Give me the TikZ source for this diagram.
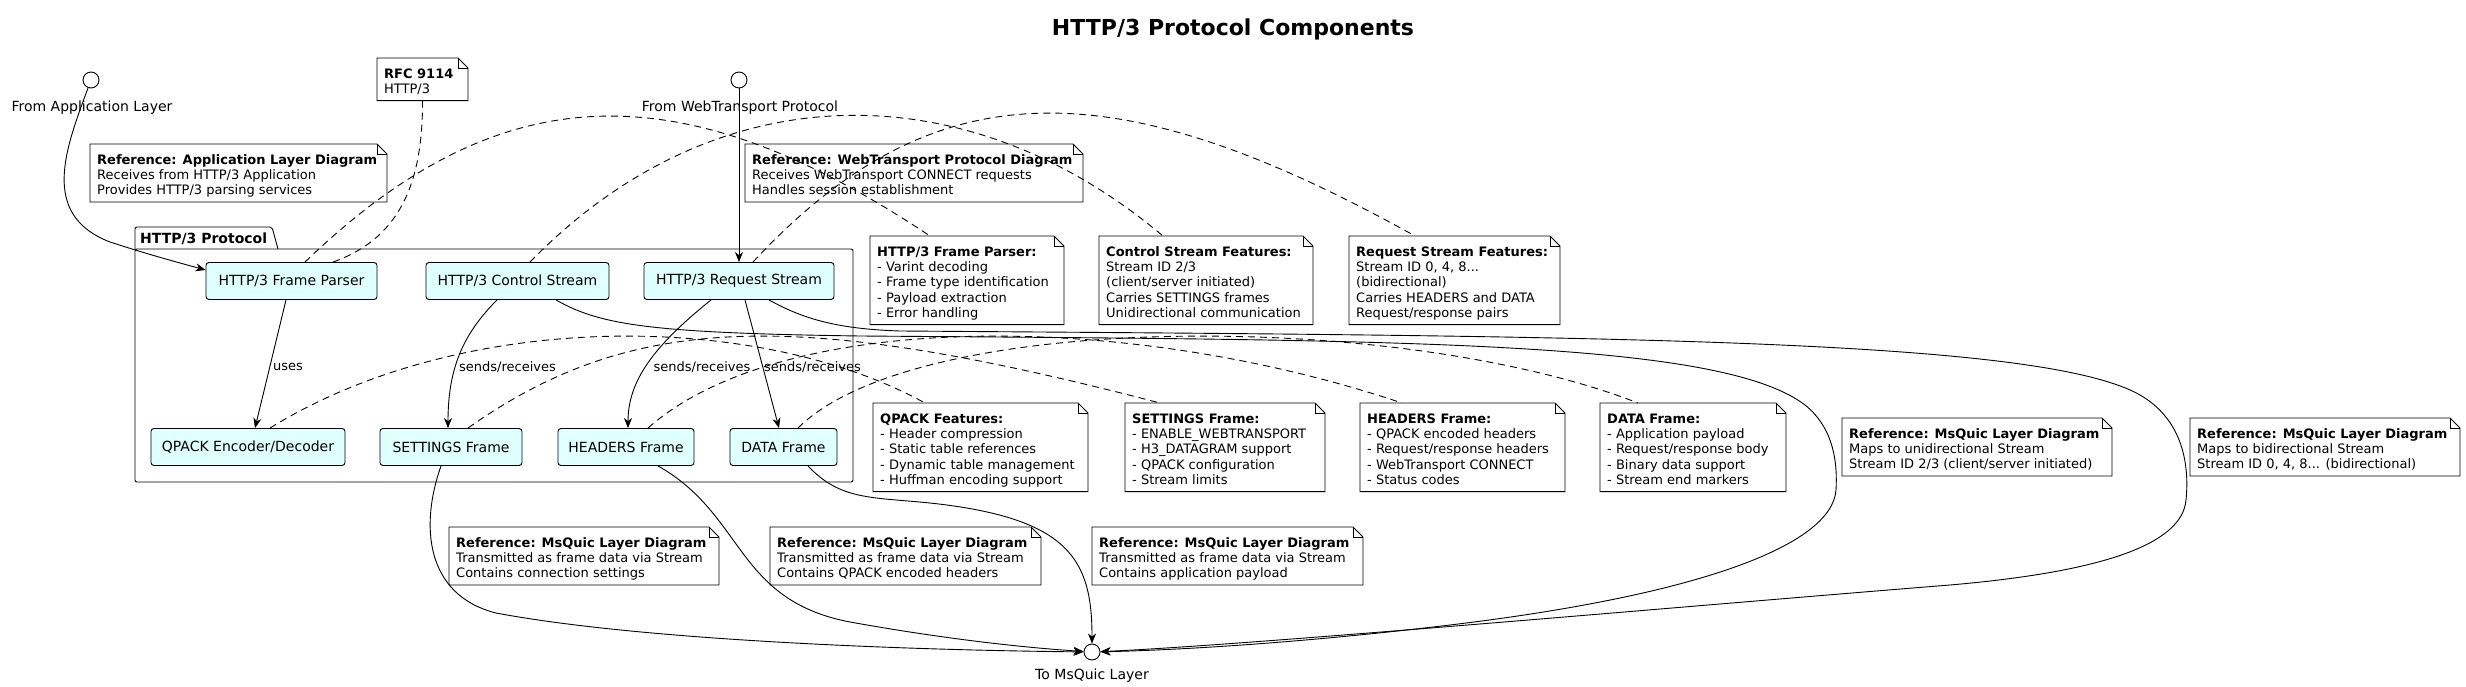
\documentclass[tikz,border=0pt]{standalone}
\usepackage{fontspec}
\setmainfont{DejaVu Sans}
\usetikzlibrary{arrows.meta}
\definecolor{lcyan}{RGB}{224,255,255}
\newcommand\compfont{\fontsize{14}{16}\selectfont}
\newcommand\notefont{\fontsize{13}{15.3}\selectfont}
\newcommand\lblfont{\fontsize{13}{15}\selectfont}
\newcommand\mknote[5]{%
  \node[notetext] (#1) at (#2,#3) {\rule{0pt}{20pt}#5\rule[-7pt]{0pt}{7pt}};
  \coordinate (#1-nw) at (#2,#3);
  \coordinate (#1-ne) at ({#2+#4},#3);
  \coordinate (#1-n) at ({#2+#4/2},#3);
  \coordinate (#1-s) at (#1-n |- #1.south);
  \draw[noteline] (#1-nw) -- ([xshift=-10pt]#1-ne) -- ([yshift=-10pt]#1-ne) -- (#1-ne |- #1.south) -- (#1-nw |- #1.south) -- cycle;
  \draw[noteline] ([xshift=-10pt]#1-ne) |- ([yshift=-10pt]#1-ne);
}
\begin{document}
\begin{tikzpicture}[x=1pt,y=-1pt,
  comp/.style={draw, fill=lcyan, rounded corners=3pt, minimum height=37pt, inner xsep=0pt, font=\compfont, line width=0.9pt},
  arr/.style={-{Stealth[length=10pt,width=8pt,inset=3pt]}, line width=0.9pt},
  dconn/.style={dash pattern=on 7pt off 5pt, line width=0.9pt},
  iface/.style={circle, draw, fill=white, minimum size=16pt, inner sep=0pt, line width=0.9pt},
  lbl/.style={font=\lblfont, inner sep=1pt},
  notetext/.style={anchor=north west, align=left, inner xsep=7pt, inner ysep=0pt, font=\notefont},
  noteline/.style={line width=0.9pt},
]
\useasboundingbox (0,0) rectangle (2466,687);

% title
\node[font=\fontsize{22}{26}\selectfont\bfseries] (title) at (1233,29) {HTTP/3 Protocol Components};

% package
\draw[line width=0.9pt, rounded corners=2pt] (135,249) rectangle (853,482);
\draw[line width=0.9pt, rounded corners=2pt] (135,249) -- (135,227) -- (272,227) -- (278,249);
\node[font=\compfont\bfseries, anchor=west, inner sep=0pt] (pkglabel) at (140,239) {HTTP/3 Protocol};

% interfaces
\node[iface] (app) at (91,80) {};
\node[font=\compfont] (appl) at (92,107.5) {From Application Layer};
\node[iface] (wt) at (739,80) {};
\node[font=\compfont] (wtl) at (740,107.5) {From WebTransport Protocol};
\node[iface] (msq) at (1092,652) {};
\node[font=\compfont] (msql) at (1092,676) {To MsQuic Layer};

% components
\node[comp, minimum width=171pt] (fp) at (291.5,281) {HTTP/3 Frame Parser};
\node[comp, minimum width=183pt] (cs) at (517.5,281) {HTTP/3 Control Stream};
\node[comp, minimum width=190pt] (rs) at (739,281) {HTTP/3 Request Stream};
\node[comp, minimum width=194pt] (qp) at (248,447) {QPACK Encoder/Decoder};
\node[comp, minimum width=142pt] (st) at (451,447) {SETTINGS Frame};
\node[comp, minimum width=136pt] (hd) at (626,447) {HEADERS Frame};
\node[comp, minimum width=107pt] (dt) at (783.5,447) {DATA Frame};

% notes
\mknote{rfc}{377}{58}{91}{\textbf{RFC 9114}\\HTTP/3}
\mknote{appn}{90}{144}{297}{\textbf{Reference: Application Layer Diagram}\\Receives from HTTP/3 Application\\Provides HTTP/3 parsing services}
\mknote{wtn}{745}{144}{338}{\textbf{Reference: WebTransport Protocol Diagram}\\Receives WebTransport CONNECT requests\\Handles session establishment}
\mknote{fpn}{870}{236}{194}{\textbf{HTTP/3 Frame Parser:}\\- Varint decoding\\- Frame type identification\\- Payload extraction\\- Error handling}
\mknote{csn}{1099}{236}{214}{\textbf{Control Stream Features:}\\Stream ID 2/3\\(client/server initiated)\\Carries SETTINGS frames\\Unidirectional communication}
\mknote{rsn}{1349}{236}{211}{\textbf{Request Stream Features:}\\Stream ID 0, 4, 8...\\(bidirectional)\\Carries HEADERS and DATA\\Request/response pairs}
\mknote{qn}{873}{403}{215}{\textbf{QPACK Features:}\\- Header compression\\- Static table references\\- Dynamic table management\\- Huffman encoding support}
\mknote{sn}{1125}{403}{200}{\textbf{SETTINGS Frame:}\\- ENABLE\_WEBTRANSPORT\\- H3\_DATAGRAM support\\- QPACK configuration\\- Stream limits}
\mknote{hn}{1360}{403}{205}{\textbf{HEADERS Frame:}\\- QPACK encoded headers\\- Request/response headers\\- WebTransport CONNECT\\- Status codes}
\mknote{dn}{1600}{403}{186}{\textbf{DATA Frame:}\\- Application payload\\- Request/response body\\- Binary data support\\- Stream end markers}
\mknote{man}{1842}{418}{270}{\textbf{Reference: MsQuic Layer Diagram}\\Maps to unidirectional Stream\\Stream ID 2/3 (client/server initiated)}
\mknote{mbn}{2190}{418}{270}{\textbf{Reference: MsQuic Layer Diagram}\\Maps to bidirectional Stream\\Stream ID 0, 4, 8... (bidirectional)}
\mknote{r1n}{449}{527}{270}{\textbf{Reference: MsQuic Layer Diagram}\\Transmitted as frame data via Stream\\Contains connection settings}
\mknote{r2n}{770}{527}{271}{\textbf{Reference: MsQuic Layer Diagram}\\Transmitted as frame data via Stream\\Contains QPACK encoded headers}
\mknote{r3n}{1092}{527}{271}{\textbf{Reference: MsQuic Layer Diagram}\\Transmitted as frame data via Stream\\Contains application payload}

% dashed note connectors
\draw[dconn] (rfc-s) .. controls (423,190) and (395,240) .. ([xshift=41.5pt]fp.north);
\draw[dconn] ([xshift=13.5pt]fp.north) .. controls (502,72) and (684,72) .. ([xshift=-37pt]fpn-n);
\draw[dconn] ([xshift=12.5pt]cs.north) .. controls (716,71) and (967,71) .. ([xshift=-43pt]csn-n);
\draw[dconn] ([xshift=14pt]rs.north) .. controls (933,68) and (1113,68) .. ([xshift=-39.5pt]rsn-n);
\draw[dconn] ([xshift=22pt]qp.north) .. controls (461,310) and (756,310) .. ([xshift=-55.5pt]qn-n);
\draw[dconn] ([xshift=17pt]st.north) .. controls (635,310) and (803,310) .. ([xshift=-65pt]sn-n);
\draw[dconn] ([xshift=22pt]hd.north) .. controls (781,310) and (1125,310) .. ([xshift=-60.5pt]hn-n);
\draw[dconn] ([xshift=14.5pt]dt.north) .. controls (916,310) and (1399,310) .. ([xshift=-55pt]dn-n);

% solid connectors
\draw[arr] (app) .. controls (65,150) and (40,215) .. (110,242) .. controls (150,255) and (180,263) .. ([yshift=11pt]fp.west);
\draw[arr] (wt) -- (rs);
\draw[arr] ([xshift=-5.5pt]fp.south) -- ([xshift=7pt]qp.north);
\draw[arr] ([xshift=-20.5pt]cs.south) .. controls (462,335) and (448,370) .. ([xshift=-3pt]st.north);
\draw[arr] ([xshift=-28pt]rs.south) .. controls (655,345) and (628,380) .. ([xshift=2pt]hd.north);
\draw[arr] ([xshift=6pt]rs.south) -- ([xshift=-4.5pt]dt.north);

\node[lbl, anchor=west] (l1) at (272,367) {uses};
\node[lbl] (l2) at (507.5,367) {sends/receives};
\node[lbl] (l3) at (702,367) {sends/receives};
\node[lbl] (l4) at (812.5,367) {sends/receives};

\draw[arr] ([xshift=38.5pt]cs.south) .. controls (600,325) and (650,333) .. (860,336)
  .. controls (1400,340) and (1720,340) .. (1805,405)
  .. controls (1830,425) and (1838,455) .. (1836,490)
  .. controls (1832,545) and (1700,595) .. (1450,625)
  .. controls (1300,643) and (1180,650) .. (msq);
\draw[arr] ([xshift=30pt]rs.south) .. controls (805,320) and (840,329) .. (900,331)
  .. controls (1600,336) and (2040,338) .. (2140,395)
  .. controls (2180,418) and (2190,460) .. (2186,500)
  .. controls (2182,545) and (2100,572) .. (1950,585)
  .. controls (1700,605) and (1250,645) .. (msq);
\draw[arr] ([xshift=-10pt]st.south) .. controls (420,525) and (425,595) .. (496,613)
  .. controls (640,640) and (900,650) .. (msq);
\draw[arr] ([xshift=32pt]hd.south) .. controls (745,515) and (735,600) .. (850,622)
  .. controls (950,640) and (1030,648) .. (msq);
\draw[arr] ([xshift=24.5pt]dt.south) .. controls (840,500) and (870,497) .. (930,503)
  .. controls (1070,518) and (1092,560) .. (msq);
\end{tikzpicture}
\end{document}
